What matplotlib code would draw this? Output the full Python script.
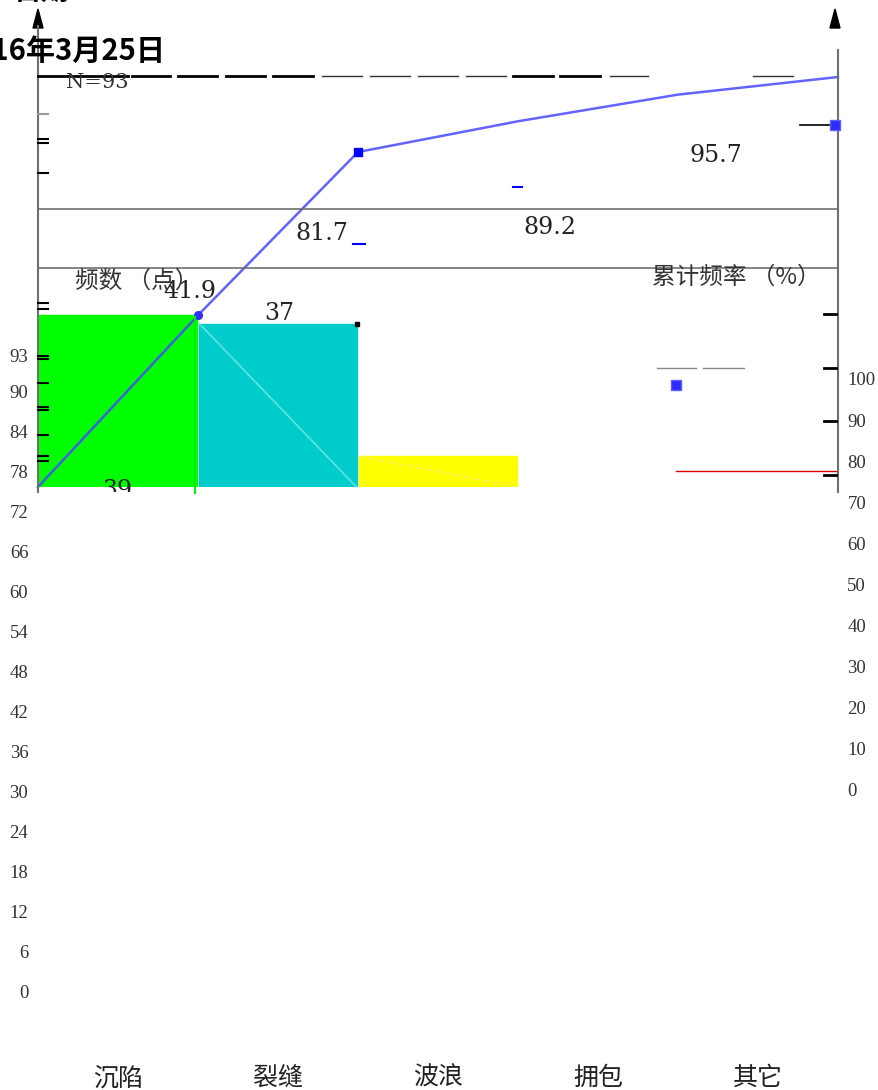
import numpy as np
import matplotlib.pyplot as plt
from matplotlib.lines import Line2D
from matplotlib.patches import Polygon
from matplotlib.transforms import Bbox, TransformedBbox

categories = ["沉陷", "裂缝", "波浪", "拥包", "其它"]
counts = [39, 37, 7, 6, 4]
cum_pct = [41.9, 81.7, 89.2, 95.7, 100.0]
bar_colors = ["#00ff00", "#00cccc", "#ffff00", "#ffffff", "#ffffff"]
count_ticks = list(range(0, 91, 6))
pct_ticks = list(range(0, 101, 10))
total = sum(counts)

W, H = 879, 1090
CJK = ["Noto Sans CJK SC", "DejaVu Sans"]
SERIF = ["DejaVu Serif"]
TICKF = ["Liberation Serif", "DejaVu Serif"]


def fx(x):
    return x / W


def fy(y):
    return 1 - y / H


def box(x0, y0, x1, y1):
    # pixel box, origin at top-left -> figure rect
    return [fx(x0), fy(y1), fx(x1) - fx(x0), fy(y0) - fy(y1)]


def seg(x0, x1, y0, y1=None, **kw):
    y1 = y0 if y1 is None else y1
    fig.add_artist(Line2D([fx(x0), fx(x1)], [fy(y0), fy(y1)],
                          transform=fig.transFigure, **kw))


def ftext(x, y, s, **kw):
    return fig.text(fx(x), fy(y), s, **kw)


def hide_frame(a):
    for s in a.spines.values():
        s.set_visible(False)
    a.patch.set_alpha(0)


fig = plt.figure(figsize=(W / 100, H / 100), dpi=100)

# frame lines and guide lines
seg(38, 38, 26, 492, color="#707070", lw=1.5)
seg(838, 838, 50, 492, color="#707070", lw=1.5)
seg(38, 838, 209, color="#707070", lw=1.2)
seg(38, 838, 268, color="#707070", lw=1.2)
for tip in (38, 835):
    fig.add_artist(Polygon([[fx(tip - 5), fy(28)], [fx(tip + 5), fy(28)], [fx(tip), fy(9)]],
                           closed=True, transform=fig.transFigure, color="black"))

# broken top reference line
top_dashes = [(38, 128, 2.0, "black"), (132, 170, 2.0, "black"), (178, 217, 2.0, "black"),
              (226, 265, 2.0, "black"), (273, 313, 2.0, "black"), (322, 362, 1.0, "#333333"),
              (370, 410, 1.0, "#333333"), (418, 458, 1.0, "#333333"), (466, 506, 1.0, "#333333"),
              (513, 553, 2.0, "black"), (560, 600, 2.0, "black"), (610, 648, 1.0, "#333333"),
              (753, 793, 1.0, "#333333")]
for a, b, w, c in top_dashes:
    seg(a, b, 76, color=c, lw=w)

# stray tick dashes along both frame lines
for y, c in [(114, "#999999"), (139, "black"), (143, "black"), (173, "black"),
             (303, "black"), (309, "black"), (356, "black"), (359, "black"),
             (383, "black"), (407, "black"), (410, "black"), (435, "black"),
             (456, "black"), (461, "black")]:
    seg(38, 48, y, color=c, lw=1.5)
for y in (314, 368, 421, 475):
    seg(824, 836, y, color="black", lw=2)

# count axis (bars) and percent axis (cumulative line) share one area
x = np.arange(len(categories))
axc = fig.add_axes(box(38, 77, 838, 487))
axc.set_xlim(-0.5, 4.5)
axc.set_ylim(0, total)
axc.axis("off")
axc.bar(x, counts, width=0.99, color=bar_colors, edgecolor=bar_colors, linewidth=1)
axc.plot([x[1] - 0.49, x[1] + 0.49], [counts[1], 0], color="#5fe3e3", lw=1.2)
axc.plot([x[2] - 0.49, x[2] + 0.49], [counts[2], 0], color="#eeee70", lw=1, ls=(0, (4, 3)))
axc.plot(x[1] + 0.495, counts[1], "s", ms=2.5, color="black")
seg(195, 195, 317, 493, color="#00ee00", lw=1.5)

ax = fig.add_axes(box(38, 77, 838, 487))
ax.set_xlim(-0.5, 4.5)
ax.set_ylim(0, 100)
ax.axis("off")
ax.plot(np.r_[x - 0.5, x[-1] + 0.5], [0] + cum_pct, color="#4848ff", lw=1.8,
        alpha=0.85, clip_on=False)
ax.plot(x[0] + 0.5, cum_pct[0], "o", ms=5.5, color="#3030ff", clip_on=False)
ax.plot(x[1] + 0.5, cum_pct[1], "s", ms=6, color="#0000ff", clip_on=False)

# loose marks around the right part
seg(657, 696, 368, color="#888888", lw=1)
seg(703, 744, 368, color="#888888", lw=1)
seg(676, 836, 471, color="#dd0000", lw=1)
seg(800, 833, 125, color="black", lw=1.2)
seg(353, 365, 244, color="#0000ff", lw=1.5)
seg(513, 522, 187, color="#0000ff", lw=1.5)
for px, py in [(676, 385), (835, 125)]:
    fig.add_artist(Line2D([fx(px)], [fy(py)], marker="s", ms=6.5, color="#2b2bff",
                          mec="#6060ff", transform=fig.transFigure))

# value labels
ftext(66, 82, f"N={total}", family=SERIF, fontsize=15, color="#333333", va="center")
pct_label_px = [(190, 292), (322, 234), (550, 227), (716, 155)]
for (px, py), v in zip(pct_label_px, cum_pct):
    ftext(px, py, f"{v:.1f}", family=SERIF, fontsize=17, color="#222222",
          ha="center", va="center")
ftext(279, 313, f"{counts[1]}", family=SERIF, fontsize=17, color="#222222",
      ha="center", va="center")
t39 = ftext(117, 479, f"{counts[0]}", family=SERIF, fontsize=17, color="#222222",
            ha="center", va="top")
t39.set_clip_box(TransformedBbox(Bbox.from_extents(0, fy(492), 1, 1), fig.transFigure))
t39.set_clip_on(True)

ftext(137, 281, "频数 （点）", family=CJK, fontsize=17, color="#333333",
      ha="center", va="center")
ftext(736, 277, "累计频率 （%）", family=CJK, fontsize=17, color="#333333",
      ha="center", va="center")
ftext(166, 51, "2016年3月25日", family=CJK, fontsize=21, fontweight="bold",
      ha="right", va="center")
ftext(42, -8, "日期", family=CJK, fontsize=20, fontweight="bold",
      ha="center", va="center")

# tick label columns
axl = fig.add_axes(box(38, 351, 39, 991))
axl.set_ylim(0, 96)
axl.set_yticks(count_ticks + [95.25], [str(t) for t in count_ticks] + ["93"])
axl.set_xticks([])
axl.tick_params(axis="y", length=0, pad=7, labelsize=13.5, labelcolor="#333333")
for lab in axl.get_yticklabels():
    lab.set_family(TICKF)
hide_frame(axl)

axr = fig.add_axes(box(838, 379, 839, 790))
axr.set_ylim(0, 100)
axr.yaxis.tick_right()
axr.set_yticks(pct_ticks, [str(t) for t in pct_ticks])
axr.set_xticks([])
axr.tick_params(axis="y", length=0, pad=6, labelsize=13.5, labelcolor="#333333")
for lab in axr.get_yticklabels():
    lab.set_family(TICKF)
hide_frame(axr)

# category names
axx = fig.add_axes(box(38, 1064, 838, 1065))
axx.set_xlim(-0.5, 4.5)
axx.set_xticks(x, categories)
axx.set_yticks([])
axx.tick_params(axis="x", length=0, pad=0, labelsize=18, labelcolor="#222222")
for lab in axx.get_xticklabels():
    lab.set_family(CJK)
hide_frame(axx)

fig.savefig("out.png", dpi=100)
